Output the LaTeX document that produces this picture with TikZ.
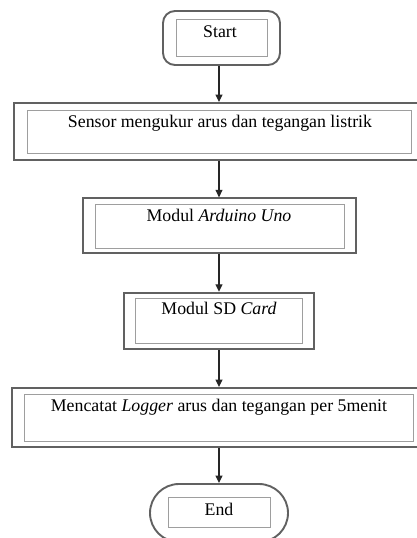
\documentclass[tikz,border=0pt]{standalone}
\usepackage{fontspec}
\setmainfont{Liberation Serif}
\usetikzlibrary{arrows.meta}
\begin{document}
\begin{tikzpicture}[x=1pt,y=-1pt,
  outerbox/.style={draw=black!62,line width=1.9pt,rectangle,inner sep=0pt,fill=none},
  innerbox/.style={draw=black!38,line width=1pt,rectangle,inner sep=0pt},
  label/.style={anchor=base,inner sep=0pt,font=\fontsize{17.8}{20}\selectfont,text=black},
  arr/.style={draw=black!85,line width=1.2pt,-{Triangle[length=7.5pt,width=7pt]}}]
\path[use as bounding box,clip] (0,0) rectangle (417,538);
\fill[white] (0,0) rectangle (417,538);
\coordinate (axis) at (219,0);
% Start
\node[outerbox,rounded corners=12pt,minimum width=117pt,minimum height=54pt] (start) at (221.5,38) {};
\node[innerbox,minimum width=91pt,minimum height=37pt] (starti) at (221.5,37.5) {};
\node[label] (startt) at (220,37) {Start};
% Sensor
\node[outerbox,minimum width=406pt,minimum height=57pt] (sensor) at (217,131.5) {};
\node[innerbox,minimum width=384pt,minimum height=43pt] (sensori) at (219,131.5) {};
\node[label] (sensort) at (220,127.5) {Sensor mengukur arus dan tegangan listrik};
% Arduino
\node[outerbox,minimum width=273pt,minimum height=55pt] (ard) at (219.5,225.8) {};
\node[innerbox,minimum width=249pt,minimum height=44.7pt] (ardi) at (219.5,226.6) {};
\node[label] (ardt) at (219,221) {Modul \textit{Arduino Uno}};
% SD Card
\node[outerbox,minimum width=190pt,minimum height=56.6pt] (sd) at (219,321) {};
\node[innerbox,minimum width=167.7pt,minimum height=45pt] (sdi) at (218.9,320.8) {};
\node[label] (sdt) at (219,314.5) {Modul SD \textit{Card}};
% Mencatat
\node[outerbox,minimum width=408pt,minimum height=59pt] (log) at (216,417.5) {};
\node[innerbox,minimum width=389pt,minimum height=47pt] (logi) at (218.5,417.5) {};
\node[label] (logt) at (219,411.5) {Mencatat \textit{Logger} arus dan tegangan per 5menit};
% End
\node[outerbox,rounded corners=29pt,minimum width=138pt,minimum height=58pt] (end) at (219,513) {};
\node[innerbox,minimum width=102pt,minimum height=30pt] (endi) at (219,512) {};
\node[label] (endt) at (219,515) {End};
% arrows
\draw[arr] (start.south -| axis) -- (sensor.north -| axis);
\draw[arr] (sensor.south -| axis) -- (ard.north -| axis);
\draw[arr] (ard.south -| axis) -- (sd.north -| axis);
\draw[arr] (sd.south -| axis) -- (log.north -| axis);
\draw[arr] (log.south -| axis) -- (end.north -| axis);
\end{tikzpicture}
\end{document}
